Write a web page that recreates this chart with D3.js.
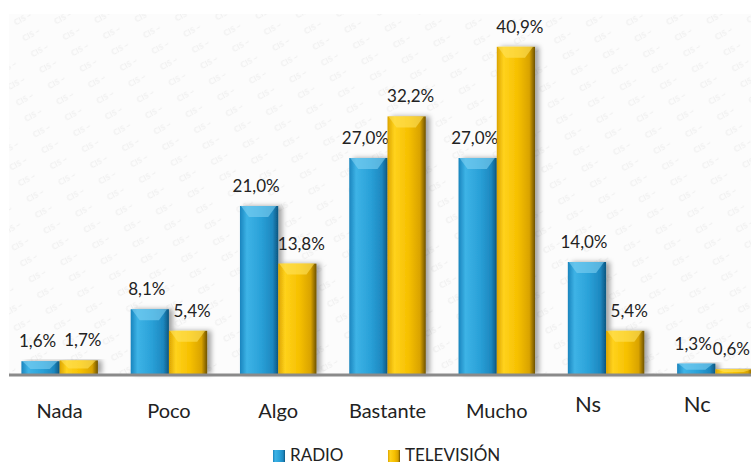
<!DOCTYPE html>
<html>
<head>
<meta charset="utf-8">
<script src="https://cdn.jsdelivr.net/npm/d3@7"></script>
<style>
  body { margin: 0; background: #fff; }
  svg { display: block; font-family: Lato, 'Open Sans', sans-serif; }
</style>
</head>
<body>
<script>
// Data
const categories = ['Nada', 'Poco', 'Algo', 'Bastante', 'Mucho', 'Ns', 'Nc'];
const seriesNames = ['RADIO', 'TELEVISIÓN'];
const radio = [1.6, 8.1, 21.0, 27.0, 27.0, 14.0, 1.3];
const tele  = [1.7, 5.4, 13.8, 32.2, 40.9, 5.4, 0.6];

const width = 751, height = 465;
const baseY = 374, topY = 14;

const svg = d3.select('body').append('svg')
    .attr('width', width)
    .attr('height', height);

const defs = svg.append('defs');

// faint watermark texture behind the plot
const pat = defs.append('pattern')
    .attr('id', 'wm')
    .attr('patternUnits', 'userSpaceOnUse')
    .attr('width', 36)
    .attr('height', 18)
    .attr('patternTransform', 'rotate(-28)');
pat.append('rect').attr('width', 36).attr('height', 18).attr('fill', '#fcfcfc');
pat.append('text')
    .attr('x', 2).attr('y', 12)
    .attr('font-size', 8)
    .attr('font-weight', 'bold')
    .attr('fill', '#f0f0f0')
    .text('CIS ~');

const grads = {
  RADIO: [['0%', '#1a84bd'], ['18%', '#3db3e6'], ['55%', '#2aa1d8'], ['85%', '#1d88c0'], ['100%', '#0d5680']],
  'TELEVISIÓN': [['0%', '#dca400'], ['18%', '#ffd21c'], ['55%', '#f6c000'], ['85%', '#d9a300'], ['100%', '#6e5200']]
};
Object.keys(grads).forEach(function(k, i) {
  const g = defs.append('linearGradient')
      .attr('id', 'g' + i)
      .attr('x1', 0).attr('x2', 1).attr('y1', 0).attr('y2', 0);
  grads[k].forEach(function(s) {
    g.append('stop').attr('offset', s[0]).attr('stop-color', s[1]);
  });
});

defs.append('filter')
    .attr('id', 'shadow')
    .attr('x', '-30%').attr('y', '-10%').attr('width', '170%').attr('height', '120%')
  .append('feDropShadow')
    .attr('dx', 4).attr('dy', 0)
    .attr('stdDeviation', 2.5)
    .attr('flood-color', '#000')
    .attr('flood-opacity', 0.35);

svg.append('rect')
    .attr('x', 9).attr('y', topY)
    .attr('width', width - 9).attr('height', baseY - topY)
    .attr('fill', 'url(#wm)');

// scales
const x = d3.scaleBand()
    .domain(categories)
    .range([5, 770])
    .paddingInner(0.3)
    .paddingOuter(0.15);

const xs = d3.scaleBand()
    .domain(seriesNames)
    .range([0, x.bandwidth()]);

const y = d3.scaleLinear()
    .domain([0, 45])
    .range([baseY, topY]);

const fmt = function(v) { return d3.format('.1f')(v).replace('.', ',') + '%'; };

const rows = categories.map(function(c, i) {
  return {cat: c, vals: [
    {s: seriesNames[0], v: radio[i], idx: 0},
    {s: seriesNames[1], v: tele[i], idx: 1}
  ]};
});

const groups = svg.append('g').selectAll('g')
  .data(rows)
  .join('g')
    .attr('transform', function(d) { return 'translate(' + x(d.cat) + ',0)'; });

const bars = groups.selectAll('g.bar')
  .data(function(d) { return d.vals; })
  .join('g')
    .attr('class', 'bar');

bars.append('rect')
    .attr('x', function(d) { return xs(d.s); })
    .attr('y', function(d) { return y(d.v); })
    .attr('width', xs.bandwidth())
    .attr('height', function(d) { return baseY - y(d.v); })
    .attr('fill', function(d) { return 'url(#g' + d.idx + ')'; })
    .attr('filter', 'url(#shadow)');

// bevelled top
bars.append('path')
    .attr('d', function(d) {
      const x0 = xs(d.s) + 1, x1 = xs(d.s) + xs.bandwidth() - 2;
      const t = y(d.v);
      const h = Math.min(11, (baseY - t) * 0.6);
      return 'M' + x0 + ',' + t + 'L' + x1 + ',' + t +
             'L' + (x1 - 8) + ',' + (t + h) + 'L' + (x0 + 8) + ',' + (t + h) + 'Z';
    })
    .attr('fill', function(d) { return d.idx === 0 ? '#7fd0f2' : '#ffe35c'; })
    .attr('opacity', 0.6);

bars.append('text')
    .attr('x', function(d) { return xs(d.s) + xs.bandwidth() / 2 + (d.idx === 0 ? -3 : 4); })
    .attr('y', function(d) { return y(d.v) - 14; })
    .attr('text-anchor', 'middle')
    .attr('font-size', 17)
    .attr('fill', '#222')
    .text(function(d) { return fmt(d.v); })
    .each(function() {
      // keep labels inside the picture
      const b = this.getBBox();
      const g = this.parentNode.parentNode;
      const off = +g.getAttribute('transform').match(/translate\(([-\d.]+)/)[1];
      const over = off + b.x + b.width - (width - 1);
      if (over > 0) d3.select(this).attr('x', +d3.select(this).attr('x') - over);
    });

// baseline
svg.append('line')
    .attr('x1', 9).attr('x2', width)
    .attr('y1', baseY + 1).attr('y2', baseY + 1)
    .attr('stroke', '#8a8a8a')
    .attr('stroke-width', 3);

// category labels (Ns / Nc sit a bit left and higher in the original)
const small = {Ns: true, Nc: true};
svg.append('g').selectAll('text')
  .data(categories)
  .join('text')
    .attr('x', function(d) { return x(d) + x.bandwidth() / 2 + (small[d] ? -18 : 0); })
    .attr('y', function(d) { return small[d] ? 412 : 418; })
    .attr('text-anchor', 'middle')
    .attr('font-size', function(d) { return small[d] ? 22 : 20; })
    .attr('fill', '#222')
    .text(function(d) { return d; });

// legend
const legend = svg.append('g');
const legX = [273, 388];
seriesNames.forEach(function(s, i) {
  legend.append('rect')
      .attr('x', legX[i]).attr('y', 450)
      .attr('width', 12).attr('height', 12)
      .attr('fill', 'url(#g' + i + ')');
  legend.append('text')
      .attr('x', legX[i] + 17).attr('y', 461)
      .attr('font-size', 17)
      .attr('fill', '#222')
      .text(s);
});
</script>
</body>
</html>
